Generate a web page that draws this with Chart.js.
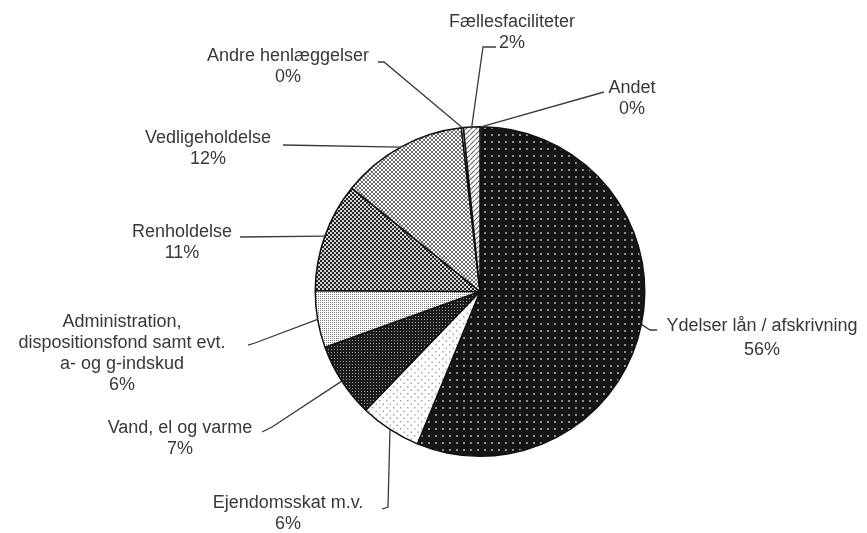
<!DOCTYPE html>
<html>
<head>
<meta charset="utf-8">
<script src="https://cdn.jsdelivr.net/npm/chart.js@4"></script>
<style>
  body { margin: 0; background: #fff; }
  canvas { display: block; }
</style>
</head>
<body>
<canvas id="pie-chart" width="867" height="533"></canvas>
<script>
// data, clockwise from 12 o'clock
const categories = ['Andet', 'Ydelser lån / afskrivning', 'Ejendomsskat m.v.', 'Vand, el og varme',
    'Administration, dispositionsfond samt evt. a- og g-indskud', 'Renholdelse', 'Vedligeholdelse',
    'Andre henlæggelser', 'Fællesfaciliteter'];
const shares = [0.2, 56.0, 6.0, 7.3, 5.6, 10.7, 12.4, 0.2, 1.6];
const labelLines = [
    ['Andet'],
    ['Ydelser lån / afskrivning'],
    ['Ejendomsskat m.v.'],
    ['Vand, el og varme'],
    ['Administration,', 'dispositionsfond samt evt.', 'a- og g-indskud'],
    ['Renholdelse'],
    ['Vedligeholdelse'],
    ['Andre henlæggelser'],
    ['Fællesfaciliteter']
];

var canvas = document.getElementById('pie-chart');
var ctx = canvas.getContext('2d');

// fyldmønstre
function makePattern(size, bg, draw) {
    var c = document.createElement('canvas');
    c.width = size;
    c.height = size;
    var g = c.getContext('2d');
    g.fillStyle = bg;
    g.fillRect(0, 0, size, size);
    draw(g);
    return ctx.createPattern(c, 'repeat');
}

var fills = [
    '#ffffff',
    makePattern(7, '#151515', function (g) {
        g.fillStyle = '#8c8c8c';
        g.fillRect(1, 1, 2, 2);
    }),
    makePattern(7, '#ffffff', function (g) {
        g.fillStyle = '#a8a8a8';
        g.fillRect(1, 1, 1.5, 1.5);
        g.fillRect(4.5, 4.5, 1.5, 1.5);
    }),
    makePattern(3, '#1c1c1c', function (g) {
        g.fillStyle = '#9a9a9a';
        g.fillRect(1, 1, 1, 1);
    }),
    makePattern(2, '#ffffff', function (g) {
        g.fillStyle = '#7a7a7a';
        g.fillRect(0, 0, 1, 1);
    }),
    makePattern(4, '#d4d4d4', function (g) {
        g.fillStyle = '#262626';
        g.fillRect(0, 0, 2, 2);
        g.fillRect(2, 2, 2, 2);
    }),
    makePattern(4, '#ffffff', function (g) {
        g.fillStyle = '#6a6a6a';
        for (var k = 0; k < 4; k++) {
            g.fillRect(k, k, 1, 1);
            g.fillRect(k, 3 - k, 1, 1);
        }
    }),
    '#ffffff',
    makePattern(5, '#ffffff', function (g) {
        g.strokeStyle = '#6a6a6a';
        g.lineWidth = 1.2;
        g.beginPath();
        g.moveTo(-1, 6);
        g.lineTo(6, -1);
        g.stroke();
    })
];

// placering af tekster: [x, y] for første linje, leader-knæk og slutpunkt
var labelLayout = [
    { x: 632, y: 88, elbow: null, end: [604, 92] },
    { x: 762, y: 326, elbow: [650, 330], end: [657, 330] },
    { x: 288, y: 503, elbow: [388, 507], end: [382, 509] },
    { x: 180, y: 428, elbow: [272, 427], end: [262, 432] },
    { x: 122, y: 322, elbow: [255, 343], end: [248, 345] },
    { x: 182, y: 232, elbow: null, end: [240, 237] },
    { x: 208, y: 138, elbow: null, end: [283, 145] },
    { x: 288, y: 56, elbow: [384, 62], end: [378, 62] },
    { x: 512, y: 22, elbow: [483, 47], end: [496, 47] }
];

const leaderLabels = {
    id: 'leaderLabels',
    afterDatasetsDraw(chart) {
        var c = chart.ctx;
        var meta = chart.getDatasetMeta(0);
        var total = shares.reduce((a, b) => a + b, 0);
        c.save();
        c.font = '18px "Liberation Sans", Arial, sans-serif';
        c.textAlign = 'center';
        c.textBaseline = 'middle';
        meta.data.forEach(function (arc, i) {
            var p = arc.getProps(['x', 'y', 'startAngle', 'endAngle', 'outerRadius'], true);
            var mid = (p.startAngle + p.endAngle) / 2;
            var ex = p.x + Math.cos(mid) * p.outerRadius;
            var ey = p.y + Math.sin(mid) * p.outerRadius;
            var lay = labelLayout[i];

            c.strokeStyle = '#3a3a3a';
            c.lineWidth = 1.3;
            c.beginPath();
            c.moveTo(ex, ey);
            if (lay.elbow) c.lineTo(lay.elbow[0], lay.elbow[1]);
            c.lineTo(lay.end[0], lay.end[1]);
            c.stroke();

            var lines = labelLines[i].concat([Math.round(shares[i] / total * 100) + '%']);
            c.fillStyle = '#383838';
            lines.forEach(function (txt, k) {
                c.fillText(txt, lay.x, lay.y + k * (i === 1 ? 24 : 21));
            });
        });
        c.restore();
    }
};

var chart = new Chart(ctx, {
    type: 'pie',
    data: {
        labels: categories,
        datasets: [{
            data: shares,
            backgroundColor: fills,
            borderColor: '#111111',
            borderWidth: 1.5
        }]
    },
    options: {
        responsive: false,
        animation: false,
        layout: {
            padding: { top: 126, bottom: 76, left: 314, right: 221 }
        },
        plugins: {
            legend: { display: false },
            tooltip: { enabled: false }
        }
    },
    plugins: [leaderLabels]
});
</script>
</body>
</html>
